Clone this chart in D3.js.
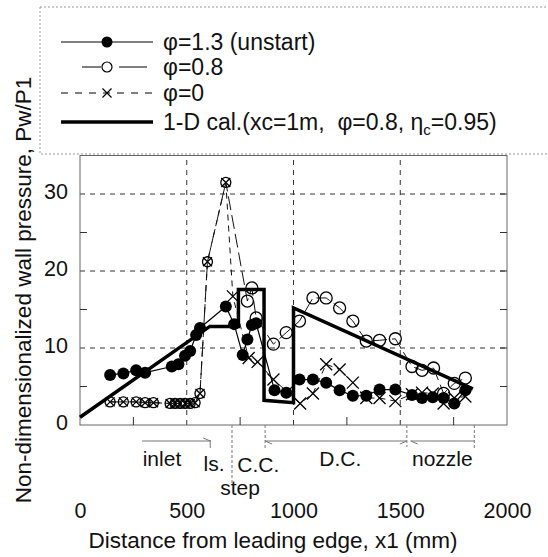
<!DOCTYPE html>
<html><head><meta charset="utf-8">
<script src="https://cdn.jsdelivr.net/npm/d3@7"></script>
<style>
body{margin:0;background:#fff}
svg{display:block}
text{font-family:"Liberation Sans",Arial,Helvetica,sans-serif;fill:#111;white-space:pre}
</style>
</head><body>
<svg id="c" width="548" height="557"></svg>
<script>
// ---------------- data ----------------
const xTicks = [0, 500, 1000, 1500, 2000];
const yTicks = [0, 10, 20, 30];
const xMinorTicks = [250, 750, 1250, 1750];
const yMinorTicks = [5, 15, 25];

// inlet / isolator points shared by phi=0.8 and phi=0 (overlapping markers)
const inletX = [141, 203, 263, 305, 344, 422, 445, 469, 492, 516, 539, 562, 597, 683];
const inletY = [3.0, 3.0, 3.0, 2.9, 2.9, 2.8, 2.8, 2.8, 2.8, 2.8, 2.9, 4.1, 21.2, 31.5];

// phi = 1.3 (unstart)
const phi13X = [141, 203, 263, 305, 430, 461, 492, 516, 544, 562, 683, 722, 762, 784, 805, 825, 911, 966, 1028, 1091, 1153, 1216, 1278, 1341, 1403, 1477, 1555, 1602, 1652, 1703, 1753, 1805];
const phi13Y = [6.5, 6.7, 7.1, 6.8, 7.6, 7.9, 9.0, 9.6, 11.7, 12.6, 15.4, 13.1, 9.1, 11.1, 13.0, 13.2, 4.5, 4.2, 5.9, 5.9, 5.5, 4.5, 3.8, 3.8, 4.6, 4.6, 3.9, 3.5, 3.6, 3.5, 2.8, 4.5];

// phi = 0.8 downstream of the isolator
const phi08X = [784, 805, 825, 906, 966, 1028, 1091, 1153, 1216, 1278, 1341, 1403, 1477, 1555, 1602, 1656, 1703, 1753, 1805];
const phi08Y = [16.1, 17.8, 13.9, 10.5, 12.0, 13.5, 16.5, 16.5, 15.2, 13.5, 10.9, 11.0, 11.2, 7.6, 7.1, 7.4, 4.1, 5.4, 6.1];

// phi = 0 downstream of the isolator
const phi0X = [716, 790, 832, 906, 1031, 1091, 1153, 1216, 1278, 1341, 1403, 1477, 1555, 1602, 1652, 1703, 1753, 1805];
const phi0Y = [16.7, 8.7, 8.2, 5.9, 2.8, 4.1, 7.9, 7.2, 5.5, 3.5, 3.5, 3.1, 4.0, 4.2, 4.1, 2.8, 3.5, 3.7];

// 1-D calculation
const calX = [0, 608, 742, 742, 862, 862, 1000, 1000, 1840];
const calY = [1.0, 12.8, 12.8, 17.6, 17.6, 3.2, 2.9, 15.2, 4.7];

// region annotations (mm)
const regionNames = ["inlet", "ls.", "C.C.", "step", "D.C.", "nozzle"];
const regionCenters = [384, 628, 835, 750, 1219, 1697];
const regionBounds = [291, 610, 712, 867, 1531, 1549, 1847];

const legendLabels = ["φ=1.3 (unstart)", "φ=0.8", "φ=0"];

// ---------------- drawing ----------------
const svg = d3.select('#c');
const x = d3.scaleLinear().domain([0, 2000]).range([80, 507]);
const y = d3.scaleLinear().domain([0, 35]).range([425, 155.5]);
const pts = (xs, ys) => xs.map((v, i) => [v, ys[i]]);
const line = d3.line().x(d => x(d[0])).y(d => y(d[1]));

// grid
svg.append('g').selectAll('line').data(yTicks.slice(1)).join('line')
  .attr('x1', x(0)).attr('x2', x(2000)).attr('y1', d => y(d)).attr('y2', d => y(d))
  .attr('stroke', '#333').attr('stroke-width', 1).attr('stroke-dasharray', '5,5');
svg.append('g').selectAll('line').data(xTicks.slice(1, 4)).join('line')
  .attr('x1', d => x(d)).attr('x2', d => x(d)).attr('y1', y(0)).attr('y2', y(35))
  .attr('stroke', '#333').attr('stroke-width', 1).attr('stroke-dasharray', '5,5');

// frame
svg.append('rect').attr('x', x(0)).attr('y', y(35)).attr('width', x(2000) - x(0)).attr('height', y(0) - y(35))
  .attr('fill', 'none').attr('stroke', '#666').attr('stroke-width', 1);

// minor / inner ticks
const tk = svg.append('g').attr('stroke', '#333').attr('stroke-width', 1);
tk.selectAll('.yl').data(yMinorTicks).join('line').attr('x1', x(0)).attr('x2', x(0) + 7).attr('y1', d => y(d)).attr('y2', d => y(d));
tk.selectAll('.yr').data(yMinorTicks.concat(yTicks.slice(1))).join('line').attr('x1', x(2000) - 7).attr('x2', x(2000)).attr('y1', d => y(d)).attr('y2', d => y(d));
tk.selectAll('.xb').data(xMinorTicks).join('line').attr('x1', d => x(d)).attr('x2', d => x(d)).attr('y1', y(0)).attr('y2', y(0) - 8);

// axes labels via d3 axes
const ax = svg.append('g').attr('transform', `translate(0,${y(0)})`)
  .call(d3.axisBottom(x).tickValues(xTicks).tickSize(0).tickPadding(78).tickFormat(d3.format('d')));
ax.select('.domain').remove();
ax.selectAll('text').attr('font-size', 21.5).attr('fill', '#111').style('font-family', '"Liberation Sans",Arial,sans-serif');

const ay = svg.append('g').attr('transform', `translate(${x(0)},0)`)
  .call(d3.axisLeft(y).tickValues(yTicks).tickSize(0).tickPadding(12));
ay.select('.domain').remove();
ay.selectAll('text').attr('font-size', 21.5).attr('fill', '#111').attr('dy', '0.2em').style('font-family', '"Liberation Sans",Arial,sans-serif');

// axis titles
svg.append('text').attr('x', 273).attr('y', 548).attr('text-anchor', 'middle').attr('font-size', 22.5)
  .text('Distance from leading edge, x1 (mm)');
svg.append('text').attr('transform', 'translate(31,290) rotate(-90)').attr('text-anchor', 'middle').attr('font-size', 22.5)
  .text('Non-dimensionalized wall pressure, Pw/P1');

// region annotations
const an = svg.append('g').attr('stroke', '#777').attr('stroke-width', 1).attr('fill', 'none');
const ya = 441;
an.append('line').attr('x1', x(regionBounds[0])).attr('x2', x(regionBounds[1])).attr('y1', ya).attr('y2', ya);
an.append('path').attr('d', `M${x(regionBounds[1]) - 7},${ya - 3}L${x(regionBounds[1])},${ya}`);
an.append('line').attr('x1', x(regionBounds[1])).attr('x2', x(regionBounds[1])).attr('y1', ya - 1).attr('y2', ya + 7);
an.append('line').attr('x1', x(regionBounds[2])).attr('x2', x(regionBounds[2])).attr('y1', y(0)).attr('y2', 485).attr('stroke-dasharray', '3,2');
an.append('line').attr('x1', x(regionBounds[3])).attr('x2', x(regionBounds[3])).attr('y1', y(0)).attr('y2', 450).attr('stroke-dasharray', '3,2');
an.append('line').attr('x1', x(regionBounds[3])).attr('x2', x(regionBounds[4])).attr('y1', ya).attr('y2', ya);
an.append('path').attr('d', `M${x(regionBounds[3]) + 7},${ya + 3}L${x(regionBounds[3])},${ya}`);
an.append('path').attr('d', `M${x(regionBounds[4]) - 7},${ya + 3}L${x(regionBounds[4])},${ya}`);
an.append('line').attr('x1', x(regionBounds[4])).attr('x2', x(regionBounds[4])).attr('y1', y(0)).attr('y2', ya + 6).attr('stroke-dasharray', '3,2');
an.append('line').attr('x1', x(regionBounds[5])).attr('x2', x(regionBounds[6])).attr('y1', ya).attr('y2', ya);
an.append('path').attr('d', `M${x(regionBounds[5]) + 7},${ya + 3}L${x(regionBounds[5])},${ya}`);
an.append('line').attr('x1', x(regionBounds[6])).attr('x2', x(regionBounds[6])).attr('y1', y(0)).attr('y2', ya + 7).attr('stroke-dasharray', '3,2');

const labelBase = [466, 471, 472, 495, 466, 466];
svg.append('g').selectAll('text').data(regionNames).join('text')
  .attr('x', (d, i) => x(regionCenters[i])).attr('y', (d, i) => labelBase[i])
  .attr('text-anchor', 'middle').attr('font-size', 21).text(d => d);

// ---- series ----
const plot = svg.append('g');

plot.append('path').datum(pts(calX, calY)).attr('d', line).attr('fill', 'none')
  .attr('stroke', '#000').attr('stroke-width', 3.5).attr('stroke-linejoin', 'miter');

const phi0All = pts(inletX.concat(phi0X), inletY.concat(phi0Y));
const phi08All = pts(inletX.concat(phi08X), inletY.concat(phi08Y));
const phi13All = pts(phi13X, phi13Y);

function crossPath(cx, cy, s) {
  return `M${cx - s},${cy - s}L${cx + s},${cy + s}M${cx - s},${cy + s}L${cx + s},${cy - s}`;
}

// phi = 0
plot.append('path').datum(phi0All).attr('d', line).attr('fill', 'none')
  .attr('stroke', '#111').attr('stroke-width', 1).attr('stroke-dasharray', '6,5');
plot.append('g').selectAll('path').data(phi0All).join('path')
  .attr('d', d => crossPath(x(d[0]), y(d[1]), d[0] <= 683 ? 4.5 : 6))
  .attr('stroke', '#000').attr('stroke-width', 1.3).attr('fill', 'none');

// phi = 0.8
plot.append('path').datum(phi08All).attr('d', line).attr('fill', 'none')
  .attr('stroke', '#111').attr('stroke-width', 1).attr('stroke-dasharray', '14,5');
plot.append('g').selectAll('circle').data(phi08All).join('circle')
  .attr('cx', d => x(d[0])).attr('cy', d => y(d[1])).attr('r', d => d[0] <= 683 ? 5 : 6)
  .attr('fill', 'none').attr('stroke', '#000').attr('stroke-width', 1.3);

// phi = 1.3
plot.append('path').datum(phi13All).attr('d', line).attr('fill', 'none')
  .attr('stroke', '#000').attr('stroke-width', 1.2);
plot.append('g').selectAll('circle').data(phi13All).join('circle')
  .attr('cx', d => x(d[0])).attr('cy', d => y(d[1])).attr('r', 6).attr('fill', '#000');

// ---- legend ----
const lg = svg.append('g');
lg.append('rect').attr('x', 40).attr('y', 7).attr('width', 530).attr('height', 147)
  .attr('fill', '#fff').attr('stroke', '#999').attr('stroke-width', 1).attr('stroke-dasharray', '2,2');
const rowY = [42, 67, 93, 122];
const sx1 = 61, sx2 = 153, sm = 107, tx = 163;
lg.append('line').attr('x1', sx1).attr('x2', sx2).attr('y1', rowY[0]).attr('y2', rowY[0]).attr('stroke', '#000');
lg.append('circle').attr('cx', sm).attr('cy', rowY[0]).attr('r', 5.5).attr('fill', '#000');
lg.append('line').attr('x1', 82).attr('x2', 101).attr('y1', rowY[1]).attr('y2', rowY[1]).attr('stroke', '#000');
lg.append('line').attr('x1', 119).attr('x2', 147).attr('y1', rowY[1]).attr('y2', rowY[1]).attr('stroke', '#000');
lg.append('circle').attr('cx', sm).attr('cy', rowY[1]).attr('r', 5).attr('fill', 'none').attr('stroke', '#000').attr('stroke-width', 1.2);
lg.append('line').attr('x1', sx1).attr('x2', sx2).attr('y1', rowY[2]).attr('y2', rowY[2]).attr('stroke', '#000').attr('stroke-dasharray', '7,7');
lg.append('path').attr('d', crossPath(sm, rowY[2], 4.5)).attr('stroke', '#000').attr('stroke-width', 1.2);
lg.append('line').attr('x1', sx1).attr('x2', sx2).attr('y1', rowY[3]).attr('y2', rowY[3]).attr('stroke', '#000').attr('stroke-width', 3.5);

lg.selectAll('.lt').data(legendLabels).join('text').attr('x', tx).attr('y', (d, i) => rowY[i] + 8)
  .attr('font-size', 23).text(d => d);
const t4 = lg.append('text').attr('x', tx).attr('y', rowY[3] + 8).attr('font-size', 23);
t4.append('tspan').text('1-D cal.(xc=1m,  φ=0.8, η');
t4.append('tspan').attr('font-size', 15).attr('dy', 5).text('c');
t4.append('tspan').attr('dy', -5).text('=0.95)');
</script>
</body></html>
